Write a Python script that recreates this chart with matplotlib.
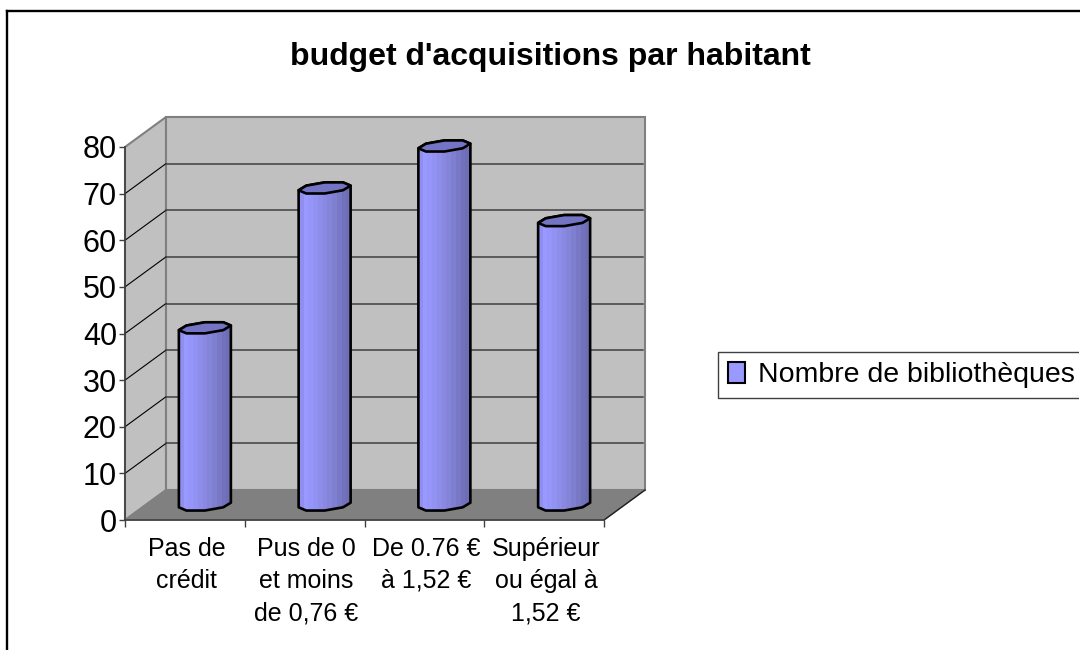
import numpy as np
import matplotlib
matplotlib.use('Agg')
import matplotlib.pyplot as plt
from matplotlib.colors import ListedColormap
from matplotlib.lines import Line2D
from matplotlib.patches import Patch, Polygon
from matplotlib.transforms import Bbox, ScaledTranslation, TransformedBbox

categories = ['Pas de\ncrédit', 'Pus de 0\net moins\nde 0,76 €', 'De 0.76 €\nà 1,52 €', 'Supérieur\nou égal à\n1,52 €']
values = [38, 68, 77, 61]
y_ticks = [0, 10, 20, 30, 40, 50, 60, 70, 80]
series_name = 'Nombre de bibliothèques'
title = "budget d'acquisitions par habitant"

bands = ['#8f8ff0', '#9999ff', '#9696fa', '#9292f2', '#8e8eea', '#8989e2',
         '#8484d9', '#7f7fd0', '#7878c6', '#7272bc', '#6e6eb6']

W, H = 1080, 650
plt.rcParams['font.family'] = ['Liberation Sans', 'DejaVu Sans']

fig = plt.figure(figsize=(W / 100, H / 100), dpi=100, facecolor='white')
# only the top and left of the outer frame are inside the picture
fig.add_artist(Line2D([7 / W, 7 / W], [0, 1 - 10.5 / H], color='black', lw=1.7, solid_capstyle='projecting'))
fig.add_artist(Line2D([7 / W, 1], [1 - 10.5 / H, 1 - 10.5 / H], color='black', lw=1.7, solid_capstyle='projecting'))

ax = fig.add_axes([125 / W, 1 - 520 / H, 479 / W, 373 / H])
ax.patch.set_visible(False)
ax.set_xlim(0, len(categories))
ax.set_ylim(0, 80)

# size of one pixel in data units, depth of the 3d box
px = len(categories) / 479
py = 80 / 373
dx = 41 * px
dy = 30 * py

# walls and floor
ax.add_patch(Polygon([(0, 0), (dx, dy), (dx, 80 + dy), (0, 80)], facecolor='#c0c0c0', edgecolor='#808080',
                     linewidth=1.5, clip_on=False, zorder=1))
ax.add_patch(Polygon([(dx, dy), (4 + dx, dy), (4 + dx, 80 + dy), (dx, 80 + dy)], facecolor='#c0c0c0',
                     edgecolor='#808080', linewidth=1.5, clip_on=False, zorder=1))
ax.add_patch(Polygon([(0, 0), (4, 0), (4 + dx, dy), (dx, dy)], facecolor='#808080', edgecolor='#808080',
                     linewidth=1, clip_on=False, zorder=1))
ax.plot([4, 4 + dx], [0, dy], color='#202020', lw=1, clip_on=False, zorder=1.5)

for v in y_ticks[1:-1]:
    ax.plot([0, dx], [v, v + dy], color='black', lw=0.8, clip_on=False, zorder=1.5)
    ax.plot([dx, 4 + dx - 2 * px], [v + dy, v + dy], color='#404040', lw=1.1, clip_on=False, zorder=1.5)

# cylinders, lid and base are low poly like in the original
ang = np.arctan2(10, 24) + np.radians(np.arange(0, 360, 45))
ex = (24 * np.cos(ang) + 10 * np.sin(ang)) * px
ey = 6 * np.sin(ang) * py

for i, val in enumerate(values):
    cx = i + 0.5 + 20 * px
    cy = 15 * py
    base = np.column_stack([cx + ex, cy + ey])
    lid = np.column_stack([cx + ex, cy + val + ey])
    # silhouette: lower half of the base then upper half of the lid
    outline = np.vstack([lid[:5], base[4:], base[:1]])
    x0, x1 = outline[:, 0].min(), outline[:, 0].max()
    body = Polygon(outline, closed=True, facecolor='none', edgecolor='black', linewidth=1.9,
                   joinstyle='round', clip_on=False, zorder=4)
    ax.add_patch(body)
    im = ax.imshow(np.arange(len(bands)).reshape(1, -1), extent=[x0, x1, 0, 80], aspect='auto',
                   cmap=ListedColormap(bands), interpolation='nearest', zorder=3)
    im.set_clip_path(body)
    ax.add_patch(Polygon(lid, closed=True, facecolor='#7474c4', edgecolor='black', linewidth=1.9,
                         joinstyle='round', clip_on=False, zorder=5))

ax.set_xlim(0, len(categories))
ax.set_ylim(0, 80)

# axes
for s in ['top', 'right']:
    ax.spines[s].set_visible(False)
for s in ['left', 'bottom']:
    ax.spines[s].set_color('#404040')
    ax.spines[s].set_linewidth(1.2)
ax.set_yticks(y_ticks)
ax.tick_params(axis='y', direction='out', length=4.3, width=1, color='#404040', labelsize=22, pad=1.5)
ax.set_xticks(range(len(categories) + 1))
ax.set_xticklabels([])
ax.set_xticks(np.arange(len(categories)) + 0.5, minor=True)
ax.set_xticklabels(categories, minor=True, fontsize=18, va='top', linespacing=1.43)
ax.tick_params(axis='x', which='major', direction='out', length=5, width=1, color='#404040')
ax.tick_params(axis='x', which='minor', length=0, pad=12)
# labels sit 2 px right of the category centres
for lab in ax.get_xticklabels(minor=True):
    lab.set_transform(lab.get_transform() + ScaledTranslation(2 / 100, 0, fig.dpi_scale_trans))

fig.text(550 / W, 1 - 57 / H, title, ha='center', va='center', fontsize=23, fontweight='bold')

handle = Patch(facecolor='#9999ff', edgecolor='black', linewidth=1.5, label=series_name)
leg = fig.legend(handles=[handle], loc='upper left', bbox_to_anchor=(718 / W, 1 - 352 / H),
                 bbox_transform=fig.transFigure, borderaxespad=0, fontsize=20.5, fancybox=False,
                 framealpha=1, edgecolor='#404040', borderpad=0.35, handlelength=0.6, handleheight=0.75,
                 handletextpad=0.45)
leg.get_frame().set_linewidth(1)
# the right side of the legend box is cut off by the picture edge
leg.get_frame().set_clip_box(TransformedBbox(Bbox([[700 / W, 0], [1078.5 / W, 1]]), fig.transFigure))

fig.savefig('out.png', dpi=100)
